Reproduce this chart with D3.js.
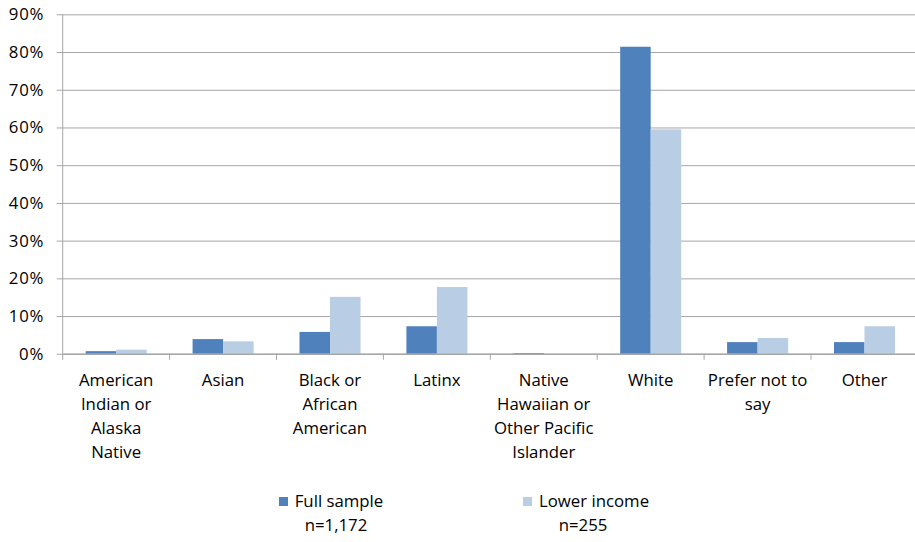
<!DOCTYPE html>
<html>
<head>
<meta charset="utf-8">
<script src="https://cdn.jsdelivr.net/npm/d3@7"></script>
<style>
  html, body { margin: 0; padding: 0; background: #fff; }
  svg { display: block; font-family: "Open Sans", Lato, sans-serif; }
</style>
</head>
<body>
<svg id="chart" width="915" height="542"></svg>
<script>
// Ethnicity categories (multi-line axis labels)
const categories = [
  ["American", "Indian or", "Alaska", "Native"],
  ["Asian"],
  ["Black or", "African", "American"],
  ["Latinx"],
  ["Native", "Hawaiian or", "Other Pacific", "Islander"],
  ["White"],
  ["Prefer not to", "say"],
  ["Other"]
];
const seriesNames = ["Full sample", "Lower income"];
const seriesN = ["n=1,172", "n=255"];
// Share of respondents, in percent
const fullSample  = [0.7, 3.9, 5.8, 7.3, 0.2, 81.4, 3.1, 3.1];
const lowerIncome = [1.1, 3.3, 15.1, 17.7, 0.0, 59.5, 4.2, 7.3];
const yTicks = [0, 10, 20, 30, 40, 50, 60, 70, 80, 90];
const colors = ["#4F81BD", "#B9CDE5"];
const fontSize = 16.8;

const svg = d3.select("#chart");
// The plot area runs slightly past the right edge of the canvas
const plotLeft = 62.7, plotRight = 62.7 + 8 * 106.9, plotTop = 14.3, plotBottom = 353.8;

const keys = categories.map((c, i) => i);
const x0 = d3.scaleBand().domain(keys).range([plotLeft, plotRight]).paddingInner(0).paddingOuter(0);
const bw = x0.bandwidth();
const x1 = d3.scaleBand().domain([0, 1]).range([bw * 0.215, bw * 0.786]).padding(0);
const y = d3.scaleLinear().domain([0, 90]).range([plotBottom, plotTop]);

// Gridlines and y-axis labels
const yAxis = d3.axisLeft(y).tickValues(yTicks).tickFormat(d => d + "%").tickSize(-(plotRight - plotLeft)).tickSizeOuter(0);
const gy = svg.append("g").attr("transform", `translate(${plotLeft},0)`).call(yAxis);
gy.select(".domain").remove();
gy.selectAll(".tick line").attr("stroke", "#a6a6a6").attr("stroke-width", 1).attr("x1", -6);
gy.selectAll(".tick text").attr("x", -18.5).attr("font-size", fontSize).attr("fill", "#000")
  .attr("font-family", "'Open Sans', sans-serif").attr("letter-spacing", 0.8);

// Vertical axis line
svg.append("line").attr("x1", plotLeft).attr("x2", plotLeft).attr("y1", plotTop).attr("y2", plotBottom)
  .attr("stroke", "#a6a6a6");

// Bars
const data = keys.map(i => [fullSample[i], lowerIncome[i]]);
const groups = svg.append("g").selectAll("g").data(data).join("g")
  .attr("transform", (d, i) => `translate(${x0(i)},0)`);
groups.selectAll("rect").data(d => d.map((v, s) => ({ v, s }))).join("rect")
  .attr("x", d => x1(d.s))
  .attr("width", x1.bandwidth())
  .attr("y", d => y(d.v))
  .attr("height", d => plotBottom - y(d.v))
  .attr("fill", d => colors[d.s]);

// Category axis
svg.append("line").attr("x1", plotLeft).attr("x2", plotRight).attr("y1", plotBottom + 0.5).attr("y2", plotBottom + 0.5)
  .attr("stroke", "#a6a6a6").attr("stroke-width", 1.5);
const boundaries = d3.range(0, keys.length + 1).map(i => plotLeft + i * bw);
svg.append("g").selectAll("line").data(boundaries).join("line")
  .attr("x1", d => d).attr("x2", d => d)
  .attr("y1", plotBottom).attr("y2", plotBottom + 6)
  .attr("stroke", "#a6a6a6");

const labels = svg.append("g").attr("font-size", fontSize).attr("text-anchor", "middle").attr("fill", "#000");
categories.forEach((lines, i) => {
  const t = labels.append("text").attr("x", x0(i) + bw / 2);
  lines.forEach((ln, j) => {
    t.append("tspan").attr("x", x0(i) + bw / 2).attr("y", 386 + j * 24).text(ln);
  });
});

// Legend
const legendX = [279, 523];
const legendTextCenter = [339, 594];
const legendNCenter = [336, 583];
const lg = svg.append("g").attr("font-size", fontSize).attr("fill", "#000");
seriesNames.forEach((name, s) => {
  lg.append("rect").attr("x", legendX[s]).attr("y", 497).attr("width", 9).attr("height", 9).attr("fill", colors[s]);
  lg.append("text").attr("x", legendTextCenter[s]).attr("y", 507).attr("text-anchor", "middle").text(name);
  lg.append("text").attr("x", legendNCenter[s]).attr("y", 531).attr("text-anchor", "middle").text(seriesN[s]);
});
</script>
</body>
</html>
